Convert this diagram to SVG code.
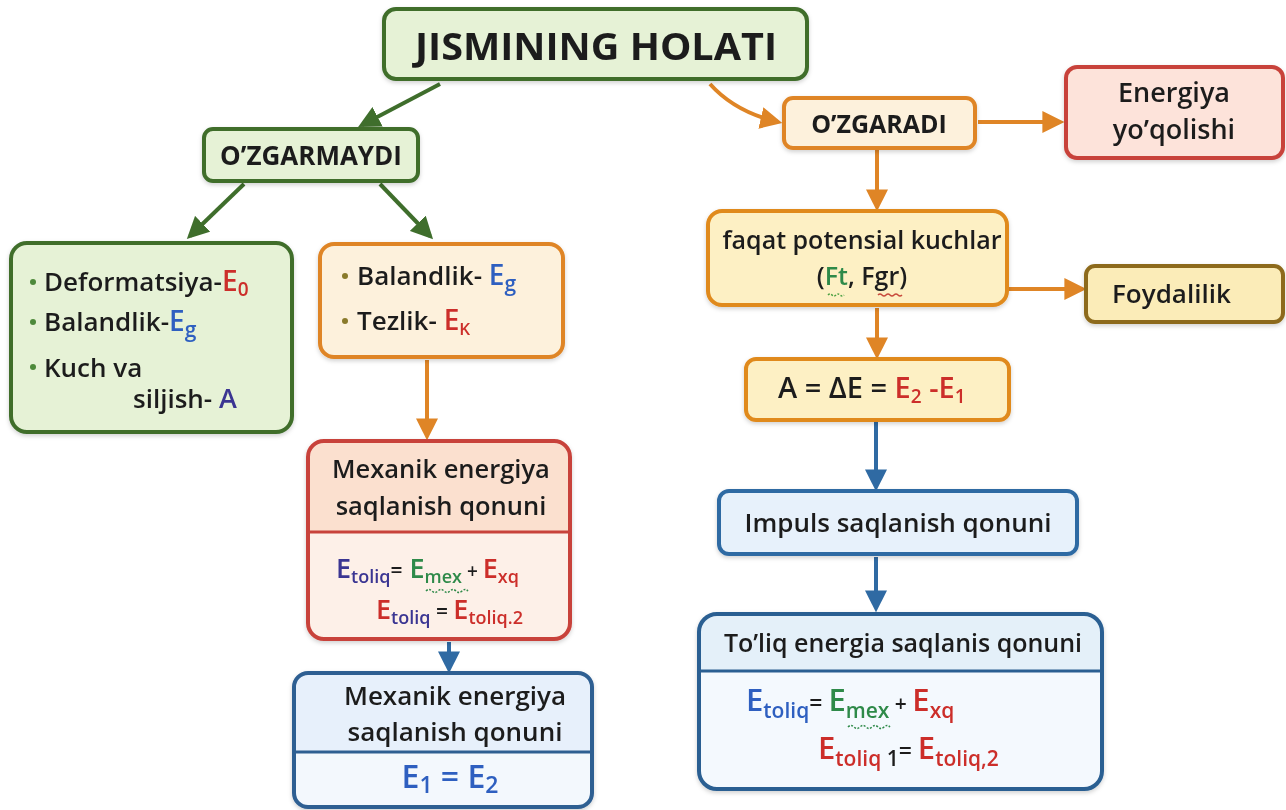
<svg xmlns="http://www.w3.org/2000/svg" width="1286" height="810" viewBox="0 0 1286 810">
<defs>
<style>
text{font-family:"Open Sans","Liberation Sans",sans-serif;font-weight:600;fill:#1e1e1e}
.b{font-weight:700}
.red{fill:#cc2f2a}.blu{fill:#2d5fc0}.pur{fill:#3a3592}.grn{fill:#2f8a4a}.dk{fill:#1e1e1e}
.g{stroke:#3f6e2c;fill:#e6f2d6}
.o{stroke:#df8526;fill:#fdf1dc}
.r{stroke:#c8433a;fill:#fde3da}
.y{stroke:#e08a1e;fill:#fdf0c4}
.ol{stroke:#8d6b1c;fill:#fbecb8}
.bl{stroke:#2f6aa3;fill:#e7f1fb}
.box{stroke-width:4}
.cg{stroke:#3f6e2c;stroke-width:4;fill:none}
.co{stroke:#df8526;stroke-width:4;fill:none}
.cb{stroke:#2f6aa3;stroke-width:4;fill:none}
</style>
<marker id="ag" viewBox="0 0 10 10" refX="8" refY="5" markerWidth="5.5" markerHeight="5.5" orient="auto"><path d="M0,0 L10,5 L0,10z" fill="#3f6e2c"/></marker>
<marker id="ao" viewBox="0 0 10 10" refX="8" refY="5" markerWidth="5.5" markerHeight="5.5" orient="auto"><path d="M0,0 L10,5 L0,10z" fill="#df8526"/></marker>
<marker id="ab" viewBox="0 0 10 10" refX="8" refY="5" markerWidth="5.5" markerHeight="5.5" orient="auto"><path d="M0,0 L10,5 L0,10z" fill="#2f6aa3"/></marker>
<filter id="sh" x="-10%" y="-10%" width="120%" height="130%"><feDropShadow dx="0" dy="2" stdDeviation="2" flood-color="#000" flood-opacity="0.18"/></filter>
</defs>
<rect width="1286" height="810" fill="#ffffff"/>

<g id="connectors">
<path class="cg" d="M440,84 L362,125" marker-end="url(#ag)"/>
<path class="co" d="M710,84 Q735,112 778,122" marker-end="url(#ao)"/>
<path class="cg" d="M244,184 L190,236" marker-end="url(#ag)"/>
<path class="cg" d="M380,184 L430,236" marker-end="url(#ag)"/>
<path class="co" d="M427,360 L427,436" marker-end="url(#ao)"/>
<path class="cb" d="M449,642 L449,669" marker-end="url(#ab)"/>
<path class="co" d="M978,122 L1060,122" marker-end="url(#ao)"/>
<path class="co" d="M877,150 L877,207" marker-end="url(#ao)"/>
<path class="co" d="M1008,289 L1082,289" marker-end="url(#ao)"/>
<path class="co" d="M877,308 L877,355" marker-end="url(#ao)"/>
<path class="cb" d="M876,422 L876,487" marker-end="url(#ab)"/>
<path class="cb" d="M876,557 L876,608" marker-end="url(#ab)"/>
</g>

<g id="title" filter="url(#sh)">
<rect class="box g" x="384" y="9" width="423" height="70" rx="12"/>
<text x="596" y="60" text-anchor="middle" class="b" font-size="38" textLength="362" lengthAdjust="spacingAndGlyphs">JISMINING HOLATI</text>
</g>

<g id="ozgarmaydi" filter="url(#sh)">
<rect class="box g" x="204" y="129" width="214" height="52" rx="9"/>
<text x="311" y="165" text-anchor="middle" class="b" font-size="26">O’ZGARMAYDI</text>
</g>

<g id="ozgaradi" filter="url(#sh)">
<rect class="box o" x="784" y="98" width="191" height="50" rx="9"/>
<text x="879" y="133" text-anchor="middle" class="b" font-size="25">O’ZGARADI</text>
</g>

<g id="energiya" filter="url(#sh)">
<rect class="box r" x="1066" y="67" width="217" height="91" rx="11"/>
<text x="1174" y="102" text-anchor="middle" font-size="27">Energiya</text>
<text x="1174" y="139" text-anchor="middle" font-size="27">yo’qolishi</text>
</g>

<g id="left-box" filter="url(#sh)">
<rect class="box g" x="11" y="243" width="281" height="189" rx="16"/>
<g font-size="26">
<circle cx="33" cy="282" r="3" fill="#4e8a3a"/>
<text x="44" y="291">Deformatsiya-<tspan class="red" font-size="28">E</tspan><tspan class="red" font-size="19" dy="5">0</tspan></text>
<circle cx="33" cy="322" r="3" fill="#4e8a3a"/>
<text x="44" y="331">Balandlik-<tspan class="blu" font-size="28">E</tspan><tspan class="blu" font-size="21" dy="6">g</tspan></text>
<circle cx="33" cy="367" r="3" fill="#4e8a3a"/>
<text x="44" y="377">Kuch va</text>
<text x="133" y="408">siljish- <tspan class="pur" font-size="27">A</tspan></text>
</g>
</g>

<g id="tezlik-box" filter="url(#sh)">
<rect class="box o" x="320" y="244" width="243" height="113" rx="14"/>
<g font-size="26">
<circle cx="345" cy="276" r="3" fill="#8a7a2a"/>
<text x="357" y="285">Balandlik- <tspan class="blu" font-size="28">E</tspan><tspan class="blu" font-size="21" dy="6">g</tspan></text>
<circle cx="345" cy="321" r="3" fill="#8a7a2a"/>
<text x="357" y="330">Tezlik- <tspan class="red" font-size="28">E</tspan><tspan class="red" font-size="17" dy="5">K</tspan></text>
</g>
</g>

<g id="mexanik-box" filter="url(#sh)">
<rect x="308" y="441" width="262" height="198" rx="16" fill="#fdf0e8"/>
<path d="M310,532 v-73 q0,-16 16,-16 h226 q16,0 16,16 v73z" fill="#fbe0cf"/>
<rect x="308" y="441" width="262" height="198" rx="16" fill="none" stroke="#c8433a" stroke-width="4"/>
<line x1="308" y1="532" x2="570" y2="532" stroke="#c8433a" stroke-width="3"/>
<text x="441" y="478" text-anchor="middle" font-size="25.5">Mexanik energiya</text>
<text x="441" y="515" text-anchor="middle" font-size="25.5">saqlanish qonuni</text>
<text x="336" y="578" font-size="27"><tspan class="pur">E</tspan><tspan class="pur" font-size="18" dy="5">toliq</tspan><tspan dy="-5" font-size="21">=</tspan><tspan class="grn"> E</tspan><tspan class="grn" font-size="18" dy="5">mex</tspan><tspan dy="-5" font-size="19"> + </tspan><tspan class="red">E</tspan><tspan class="red" font-size="18" dy="5">xq</tspan></text>
<path d="M426,591 q3,-3 6,0 t6,0 t6,0 t6,0 t6,0 t6,0 t6,0" fill="none" stroke="#2f8a4a" stroke-width="1.5" stroke-dasharray="2,1.5"/>
<text x="376" y="619" font-size="27"><tspan class="red">E</tspan><tspan class="pur" font-size="18" dy="5">toliq</tspan><tspan dy="-5" font-size="21"> = </tspan><tspan class="red">E</tspan><tspan class="red" font-size="18" dy="5">toliq.2</tspan></text>
</g>

<g id="mexanik-blue" filter="url(#sh)">
<rect x="294" y="673" width="298" height="134" rx="14" fill="#e7f0fb" stroke="none"/>
<path d="M296,752 h294 v40 q0,13 -13,13 h-268 q-13,0 -13,-13z" fill="#f3f8fd"/>
<rect x="294" y="673" width="298" height="134" rx="14" fill="none" stroke="#2f5f92" stroke-width="4"/>
<line x1="294" y1="752" x2="592" y2="752" stroke="#2f5f92" stroke-width="3"/>
<text x="455" y="705" text-anchor="middle" font-size="26">Mexanik energiya</text>
<text x="455" y="741" text-anchor="middle" font-size="26">saqlanish qonuni</text>
<text x="450" y="788" text-anchor="middle" font-size="32" class="blu"><tspan>E</tspan><tspan font-size="23" dy="5">1</tspan><tspan dy="-5"> = E</tspan><tspan font-size="23" dy="5">2</tspan></text>
</g>

<g id="faqat" filter="url(#sh)">
<rect class="box y" x="708" y="211" width="299" height="94" rx="14"/>
<text x="862" y="249" text-anchor="middle" font-size="25">faqat potensial kuchlar</text>
<text x="862" y="285" text-anchor="middle" font-size="25">(<tspan class="grn">Ft</tspan>, Fgr)</text>
<path d="M828,295 q2,-2 4,0 t4,0 t4,0 t4,0" fill="none" stroke="#4aa040" stroke-width="1.5" stroke-dasharray="2,1.5"/>
<path d="M878,295 q2,-2 4,0 t4,0 t4,0 t4,0 t4,0 t4,0" fill="none" stroke="#c84a3a" stroke-width="1.5"/>
</g>

<g id="foydalilik" filter="url(#sh)">
<rect class="box ol" x="1086" y="266" width="197" height="56" rx="9"/>
<text x="1112" y="303" font-size="26">Foydalilik</text>
</g>

<g id="delta" filter="url(#sh)">
<rect class="box y" x="746" y="359" width="263" height="61" rx="10"/>
<text x="778" y="398" font-size="29">A = ΔE = <tspan class="red">E</tspan><tspan class="red" font-size="19" dy="5">2</tspan><tspan class="red" dy="-5"> -E</tspan><tspan class="red" font-size="19" dy="5">1</tspan></text>
</g>

<g id="impuls" filter="url(#sh)">
<rect class="box bl" x="719" y="491" width="358" height="63" rx="10"/>
<text x="898" y="532" text-anchor="middle" font-size="26">Impuls saqlanish qonuni</text>
</g>

<g id="toliq-box" filter="url(#sh)">
<rect x="699" y="614" width="403" height="175" rx="18" fill="#f4f9fe" stroke="none"/>
<path d="M701,671 v-39 q0,-16 16,-16 h367 q16,0 16,16 v39z" fill="#e4f0f9"/>
<rect x="699" y="614" width="403" height="175" rx="18" fill="none" stroke="#2a5f92" stroke-width="4"/>
<line x1="699" y1="671" x2="1102" y2="671" stroke="#2a5f92" stroke-width="3"/>
<text x="903" y="652" text-anchor="middle" font-size="25">To’liq energia saqlanis qonuni</text>
<text x="746" y="711" font-size="31"><tspan class="blu">E</tspan><tspan class="blu" font-size="21" dy="7">toliq</tspan><tspan dy="-7" font-size="23">= </tspan><tspan class="grn">E</tspan><tspan class="grn" font-size="21" dy="7">mex</tspan><tspan dy="-7" font-size="21"> + </tspan><tspan class="red">E</tspan><tspan class="red" font-size="21" dy="7">xq</tspan></text>
<path d="M848,727 q3,-3 6,0 t6,0 t6,0 t6,0 t6,0 t6,0 t6,0" fill="none" stroke="#2f8a4a" stroke-width="1.5" stroke-dasharray="2,1.5"/>
<text x="818" y="759" font-size="31"><tspan class="red">E</tspan><tspan class="red" font-size="21" dy="7">toliq</tspan><tspan font-size="21"> 1</tspan><tspan dy="-7" font-size="23">= </tspan><tspan class="red">E</tspan><tspan class="red" font-size="21" dy="7">toliq,2</tspan></text>
</g>
</svg>
